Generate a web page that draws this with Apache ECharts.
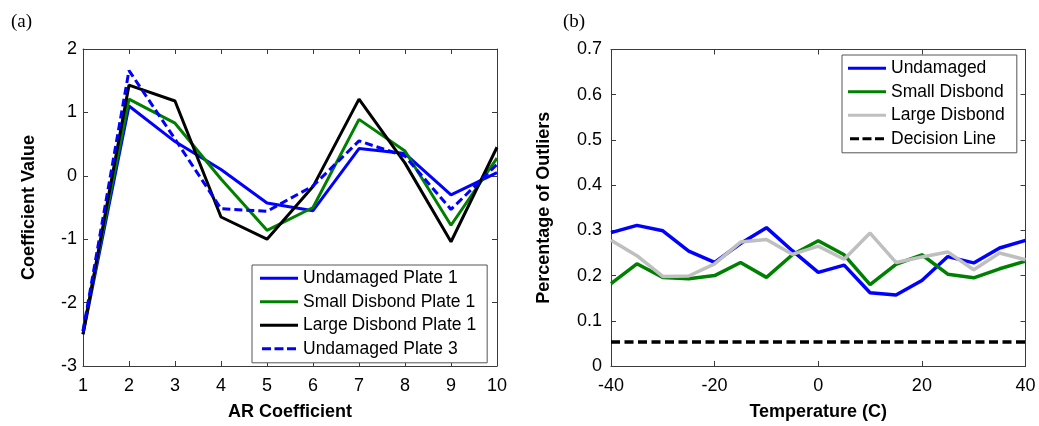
<!DOCTYPE html>
<html><head><meta charset="utf-8">
<script src="https://cdn.jsdelivr.net/npm/echarts@6/dist/echarts.min.js"></script>
<style>html,body{margin:0;padding:0;background:#fff}#c{width:1039px;height:426px}</style>
</head><body><div id="c"></div>
<script>
// ---- Panel (a): AR coefficients ----
const arCoefficients = [1, 2, 3, 4, 5, 6, 7, 8, 9, 10];
const undamagedPlate1 = [-2.5, 1.10, 0.54, 0.10, -0.43, -0.55, 0.43, 0.35, -0.30, 0.05];
const smallDisbondPlate1 = [-2.45, 1.21, 0.83, -0.05, -0.86, -0.50, 0.89, 0.39, -0.78, 0.28];
const largeDisbondPlate1 = [-2.5, 1.43, 1.18, -0.65, -1.00, -0.17, 1.21, 0.20, -1.04, 0.45];
const undamagedPlate3 = [-2.45, 1.66, 0.58, -0.52, -0.56, -0.16, 0.55, 0.31, -0.53, 0.18];

// ---- Panel (b): outliers vs temperature ----
const temperatures = [-40, -35, -30, -25, -20, -15, -10, -5, 0, 5, 10, 15, 20, 25, 30, 35, 40];
const undamaged = [0.295, 0.311, 0.299, 0.254, 0.229, 0.271, 0.306, 0.255, 0.207, 0.223, 0.162, 0.157, 0.189, 0.242, 0.228, 0.261, 0.278];
const smallDisbond = [0.182, 0.226, 0.196, 0.193, 0.200, 0.229, 0.196, 0.246, 0.277, 0.246, 0.180, 0.225, 0.246, 0.203, 0.195, 0.215, 0.232];
const largeDisbond = [0.278, 0.244, 0.198, 0.199, 0.226, 0.274, 0.280, 0.247, 0.265, 0.236, 0.294, 0.229, 0.241, 0.252, 0.213, 0.250, 0.235];
const decisionTemps = [-40, 40];
const decisionLine = [0.053, 0.053];

const zip = (xs, ys) => xs.map((x, i) => [x, ys[i]]);

const FONT = '"Liberation Sans", Arial, sans-serif';
const AXC = '#3a3a3a';

function axis(extra, labels) {
  return Object.assign({
    type: 'value',
    axisLine: { show: true, onZero: false, lineStyle: { color: AXC, width: 1 } },
    axisTick: { show: true, inside: true, length: 5, lineStyle: { color: AXC, width: 1 } },
    splitLine: { show: false },
    axisLabel: labels ? Object.assign({ show: true, color: '#000', fontFamily: FONT, fontSize: 18, showMinLabel: true, showMaxLabel: true, hideOverlap: false }, labels) : { show: false },
    nameTextStyle: { color: '#000', fontFamily: FONT, fontSize: 18, fontWeight: 'bold' },
    nameLocation: 'middle'
  }, extra);
}

const solidIcon = 'path://M0,0H38V3H0Z';
const dashIcon = 'path://M0,0H9V3H0Z M12.5,0H21.5V3H12.5Z M25,0H34V3H25Z';

const legendBase = {
  orient: 'vertical',
  itemWidth: 38,
  itemHeight: 3,
  itemGap: 5.5,
  selectedMode: false,
  backgroundColor: '#fff',
  borderColor: '#555',
  borderWidth: 1,
  borderRadius: 0,
  itemStyle: { borderWidth: 0 },
  textStyle: { color: '#000', fontFamily: FONT, fontSize: 17.5, lineHeight: 18 }
};

const option = {
  animation: false,
  backgroundColor: '#fff',
  title: [
    { text: '(a)', left: 11, top: 12.5, padding: 0, textStyle: { fontFamily: '"Liberation Serif", "Times New Roman", serif', fontSize: 19, fontWeight: 'normal', color: '#000' } },
    { text: '(b)', left: 563, top: 12.5, padding: 0, textStyle: { fontFamily: '"Liberation Serif", "Times New Roman", serif', fontSize: 19, fontWeight: 'normal', color: '#000' } }
  ],
  grid: [
    { left: 83, top: 49, width: 414, height: 320, containLabel: false },
    { left: 611, top: 49.5, width: 414.5, height: 320, containLabel: false }
  ],
  xAxis: [
    axis({ gridIndex: 0, position: 'bottom', min: 1, max: 10, interval: 1, name: 'AR Coefficient', nameGap: 37 }, { margin: 11 }),
    axis({ gridIndex: 0, position: 'top', min: 1, max: 10, interval: 1 }, null),
    axis({ gridIndex: 1, position: 'bottom', min: -40, max: 40, interval: 20, name: 'Temperature (C)', nameGap: 37 }, { margin: 11 }),
    axis({ gridIndex: 1, position: 'top', min: -40, max: 40, interval: 20 }, null)
  ],
  yAxis: [
    axis({ gridIndex: 0, position: 'left', min: -3, max: 2, interval: 1, name: 'Coefficient Value', nameGap: 45 }, { margin: 6 }),
    axis({ gridIndex: 0, position: 'right', min: -3, max: 2, interval: 1 }, null),
    axis({ gridIndex: 1, position: 'left', min: 0, max: 0.7, interval: 0.1, name: 'Percentage of Outliers', nameGap: 58 }, { margin: 9 }),
    axis({ gridIndex: 1, position: 'right', min: 0, max: 0.7, interval: 0.1 }, null)
  ],
  legend: [
    Object.assign({}, legendBase, {
      left: 252, top: 265, padding: [4.3, 11, 5, 8],
      data: [
        { name: 'Undamaged Plate 1', icon: solidIcon },
        { name: 'Small Disbond Plate 1', icon: solidIcon },
        { name: 'Large Disbond Plate 1', icon: solidIcon },
        { name: 'Undamaged Plate 3', icon: dashIcon }
      ]
    }),
    Object.assign({}, legendBase, {
      left: 842, top: 55, padding: [4.3, 12, 5, 6],
      data: [
        { name: 'Undamaged', icon: solidIcon },
        { name: 'Small Disbond', icon: solidIcon },
        { name: 'Large Disbond', icon: solidIcon },
        { name: 'Decision Line', icon: dashIcon }
      ]
    })
  ],
  series: [
    { name: 'Undamaged Plate 1', type: 'line', xAxisIndex: 0, yAxisIndex: 0, symbol: 'none', data: zip(arCoefficients, undamagedPlate1), itemStyle: { color: '#0000ff' }, lineStyle: { color: '#0000ff', width: 3 } },
    { name: 'Small Disbond Plate 1', type: 'line', xAxisIndex: 0, yAxisIndex: 0, symbol: 'none', data: zip(arCoefficients, smallDisbondPlate1), itemStyle: { color: '#008000' }, lineStyle: { color: '#008000', width: 3 } },
    { name: 'Large Disbond Plate 1', type: 'line', xAxisIndex: 0, yAxisIndex: 0, symbol: 'none', data: zip(arCoefficients, largeDisbondPlate1), itemStyle: { color: '#000000' }, lineStyle: { color: '#000000', width: 3 } },
    { name: 'Undamaged Plate 3', type: 'line', xAxisIndex: 0, yAxisIndex: 0, symbol: 'none', data: zip(arCoefficients, undamagedPlate3), itemStyle: { color: '#0000ff' }, lineStyle: { color: '#0000ff', width: 3, type: [8, 4] } },

    { name: 'Undamaged', type: 'line', xAxisIndex: 2, yAxisIndex: 2, symbol: 'none', data: zip(temperatures, undamaged), itemStyle: { color: '#0000ff' }, lineStyle: { color: '#0000ff', width: 3.5 } },
    { name: 'Small Disbond', type: 'line', xAxisIndex: 2, yAxisIndex: 2, symbol: 'none', data: zip(temperatures, smallDisbond), itemStyle: { color: '#008000' }, lineStyle: { color: '#008000', width: 3.5 } },
    { name: 'Large Disbond', type: 'line', xAxisIndex: 2, yAxisIndex: 2, symbol: 'none', data: zip(temperatures, largeDisbond), itemStyle: { color: '#bfbfbf' }, lineStyle: { color: '#bfbfbf', width: 3.5 } },
    { name: 'Decision Line', type: 'line', xAxisIndex: 2, yAxisIndex: 2, symbol: 'none', data: zip(decisionTemps, decisionLine), itemStyle: { color: '#000000' }, lineStyle: { color: '#000000', width: 3.5, type: [9, 4.5] } }
  ]
};

const chart = echarts.init(document.getElementById('c'), null, { renderer: 'canvas' });
chart.setOption(option);
</script>
</body></html>
